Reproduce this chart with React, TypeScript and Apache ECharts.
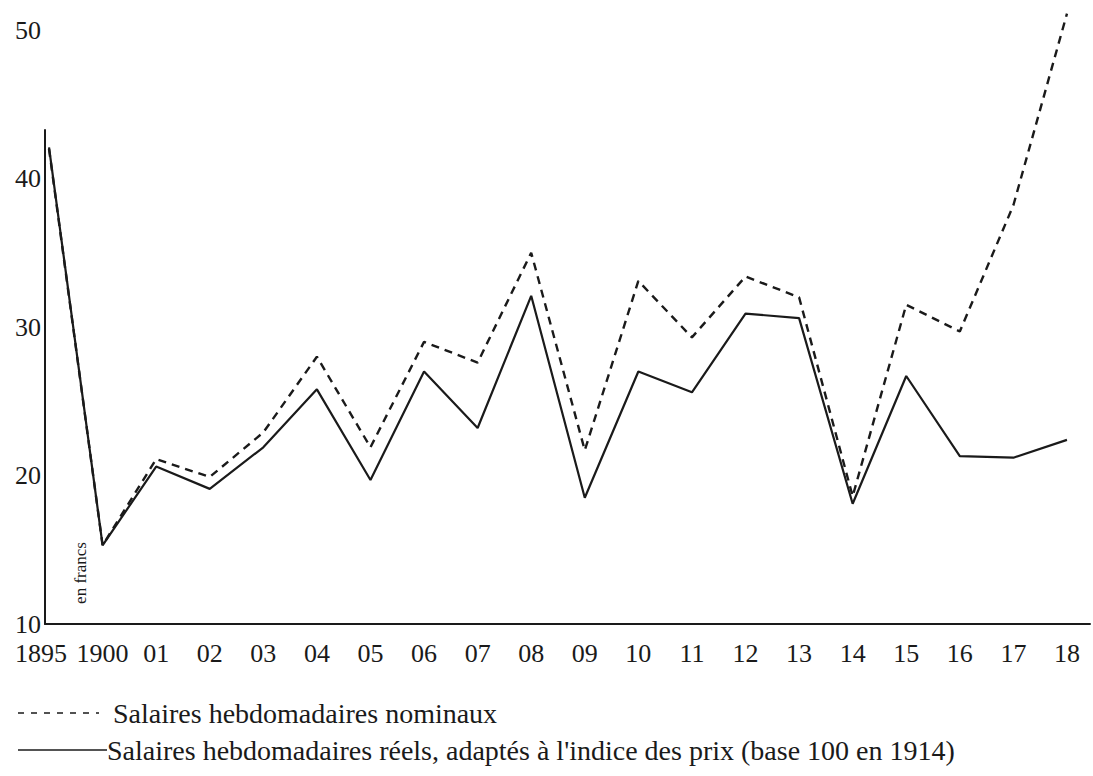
import React, { useEffect, useRef } from "react";
import * as echarts from "echarts";

const categories = ["1895", "1900", "01", "02", "03", "04", "05", "06", "07", "08", "09", "10", "11", "12", "13", "14", "15", "16", "17", "18"];
const nominal = [42.0, 15.3, 21.1, 19.9, 22.9, 28.0, 21.9, 29.0, 27.6, 35.0, 21.7, 33.1, 29.3, 33.4, 32.0, 18.6, 31.5, 29.7, 38.2, 51.1];
const real = [42.1, 15.3, 20.6, 19.1, 21.9, 25.8, 19.7, 27.0, 23.2, 32.1, 18.5, 27.0, 25.6, 30.9, 30.6, 18.1, 26.7, 21.3, 21.2, 22.4];
const yTicks = [10, 20, 30, 40, 50];
const legendNominal = "Salaires hebdomadaires nominaux";
const legendReal = "Salaires hebdomadaires réels, adaptés à l'indice des prix (base 100 en 1914)";
const unitLabel = "en francs";

const FONT = "Liberation Serif";
const INK = "#1a1a1a";

export default function App() {
  const ref = useRef<HTMLDivElement>(null);
  useEffect(() => {
    if (!ref.current) return;
    const chart = echarts.init(ref.current, null, { renderer: "svg" });
    const idx = categories.map((_, i) => i);
    chart.setOption({
      animation: false,
      backgroundColor: "#ffffff",
      grid: [
        { left: 45, right: 3, top: 30, bottom: 152 },
        { left: 45, right: 3, top: 130, bottom: 152 },
      ],
      xAxis: [
        {
          type: "value",
          gridIndex: 0,
          min: -0.075,
          max: 19.43,
          splitLine: { show: false },
          axisTick: { show: false },
          axisLine: { show: true, onZero: false, lineStyle: { color: INK, width: 2 } },
          axisLabel: {
            customValues: idx,
            formatter: (v: number) => {
              const i = Math.round(v);
              const t = categories[i] ?? "";
              return i === 0 ? `{first|${t}}` : t;
            },
            rich: {
              first: { padding: [0, 16, 0, 0], fontFamily: FONT, fontSize: 26, color: INK },
            },
            color: INK,
            fontFamily: FONT,
            fontSize: 26,
            margin: 16,
          },
        },
        {
          type: "value",
          gridIndex: 1,
          min: 0,
          max: 1,
          show: false,
        },
      ],
      yAxis: [
        {
          type: "value",
          gridIndex: 0,
          min: 10,
          max: 50,
          interval: 10,
          splitLine: { show: false },
          axisTick: { show: false },
          axisLine: { show: false },
          axisLabel: {
            color: INK,
            fontFamily: FONT,
            fontSize: 26,
            margin: 4,
            formatter: (v: number) => (yTicks.includes(v) ? String(v) : ""),
          },
        },
        {
          type: "value",
          gridIndex: 1,
          min: 0,
          max: 1,
          splitLine: { show: false },
          axisTick: { show: false },
          axisLabel: { show: false },
          axisLine: { show: true, onZero: false, lineStyle: { color: INK, width: 2 } },
        },
      ],
      series: [
        {
          name: legendNominal,
          type: "line",
          xAxisIndex: 0,
          yAxisIndex: 0,
          data: nominal.map((v, i) => [i, v]),
          symbol: "none",
          clip: false,
          lineStyle: { color: INK, width: 2.4, type: [8, 6] },
        },
        {
          name: legendReal,
          type: "line",
          xAxisIndex: 0,
          yAxisIndex: 0,
          data: real.map((v, i) => [i, v]),
          symbol: "none",
          clip: false,
          lineStyle: { color: INK, width: 2.2, type: "solid" },
        },
      ],
      graphic: [
        {
          type: "text",
          x: 80,
          y: 573,
          rotation: Math.PI / 2,
          style: {
            text: unitLabel,
            fontFamily: FONT,
            fontSize: 17,
            fill: INK,
            align: "center",
            verticalAlign: "middle",
          },
        },
        {
          type: "line",
          shape: { x1: 18, y1: 713, x2: 99, y2: 713 },
          style: { stroke: INK, lineWidth: 1.6, lineDash: [6, 7] },
        },
        {
          type: "text",
          x: 113,
          y: 713,
          style: {
            text: legendNominal,
            fontFamily: FONT,
            fontSize: 28,
            fill: INK,
            verticalAlign: "middle",
          },
        },
        {
          type: "line",
          shape: { x1: 18, y1: 750, x2: 107, y2: 750 },
          style: { stroke: INK, lineWidth: 1.6 },
        },
        {
          type: "text",
          x: 107,
          y: 750,
          style: {
            text: legendReal,
            fontFamily: FONT,
            fontSize: 28,
            fill: INK,
            verticalAlign: "middle",
          },
        },
      ],
    });
    return () => chart.dispose();
  }, []);
  return <div ref={ref} style={{ width: 1093, height: 776, position: "fixed", left: 0, top: 0, background: "#fff" }} />;
}
